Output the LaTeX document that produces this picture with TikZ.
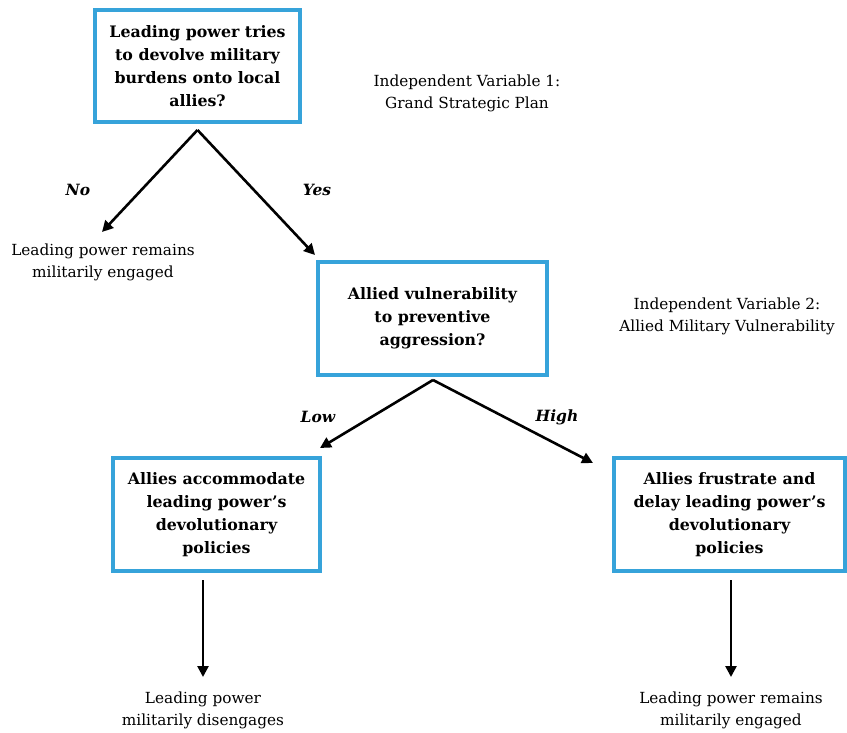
\documentclass[tikz,border=0pt]{standalone}
\usepackage{fontspec}
\setmainfont{DejaVu Serif}
\usetikzlibrary{arrows.meta}
\definecolor{boxblue}{HTML}{36A3DA}
\begin{document}
\begin{tikzpicture}[x=1pt,y=-1pt,
  qbox/.style={draw=boxblue,line width=3.4pt,align=center,font=\fontsize{15.8}{23}\selectfont\bfseries,inner sep=0pt},
  plain/.style={align=center,font=\fontsize{15.3}{22}\selectfont},
  lab/.style={font=\fontsize{15.5}{18}\selectfont\bfseries\itshape},
  arr/.style={line width=2.6pt,-{Triangle[length=11pt,width=11pt]}}]
\useasboundingbox (0,0) rectangle (847,733);
% boxes
\node[qbox,minimum width=205pt,minimum height=112pt] (b1) at (197.5,66) {Leading power tries\\to devolve military\\burdens onto local\\allies?};
\node[qbox,minimum width=229pt,minimum height=113pt] (b2) at (432.5,318.5) {Allied vulnerability\\to preventive\\aggression?};
\node[qbox,minimum width=207pt,minimum height=113pt] (b3) at (216.5,514.5) {Allies accommodate\\leading power’s\\devolutionary\\policies};
\node[qbox,minimum width=231pt,minimum height=113pt] (b4) at (729.5,514.5) {Allies frustrate and\\delay leading power’s\\devolutionary\\policies};
% side texts
\node[plain] (iv1) at (467,93) {Independent Variable 1:\\Grand Strategic Plan};
\node[plain] (iv2) at (727,316) {Independent Variable 2:\\Allied Military Vulnerability};
% outcomes
\node[plain] (o1) at (103,262) {Leading power remains\\militarily engaged};
\node[plain] (o2) at (203,710) {Leading power\\militarily disengages};
\node[plain] (o3) at (731,710) {Leading power remains\\militarily engaged};
% branch points
\coordinate (a1) at (197.5,130);
\coordinate (a2) at (433,380);
\coordinate (t1) at (102,232);
\coordinate (t2) at (315,255);
\coordinate (t3) at (320,448);
\coordinate (t4) at (593,463);
\coordinate (d3) at (203,580);
\coordinate (d4) at (731,580);
\coordinate (e3) at (203,677);
\coordinate (e4) at (731,677);
\draw[arr] (a1) -- (t1);
\draw[arr] (a1) -- (t2);
\draw[arr] (a2) -- (t3);
\draw[arr] (a2) -- (t4);
\draw[arr] (d3) -- (e3);
\draw[arr] (d4) -- (e4);
% labels
\node[lab] (lno) at (78,190) {No};
\node[lab] (lyes) at (317,190) {Yes};
\node[lab] (llow) at (318,417) {Low};
\node[lab] (lhigh) at (557,417) {High};
\end{tikzpicture}
\end{document}
